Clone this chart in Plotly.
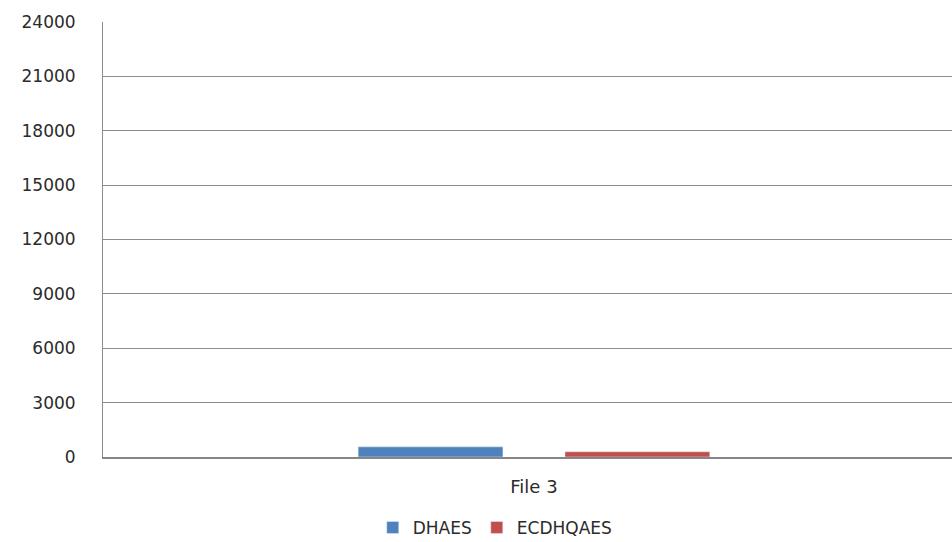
import plotly.graph_objects as go

categories = ["File 3"]
dhaes = [560]
ecdhqaes = [290]

fig = go.Figure()
fig.add_trace(go.Bar(name="DHAES", x=categories, y=dhaes, marker_color="#4F81BD"))
fig.add_trace(go.Bar(name="ECDHQAES", x=categories, y=ecdhqaes, marker_color="#C0504D"))

font = dict(family="DejaVu Sans, sans-serif", size=17, color="#2b2b2b")
fig.update_layout(
    width=952, height=542,
    margin=dict(l=103, r=0, t=22, b=85, autoexpand=False),
    paper_bgcolor="white", plot_bgcolor="white",
    barmode="group", bargap=0.52, bargroupgap=0.3,
    font=font,
    showlegend=True,
    legend=dict(orientation="h", x=0.462, xanchor="center", y=-0.163, yanchor="middle",
                font=dict(size=17, color="#2b2b2b"), itemwidth=30, tracegroupgap=0),
    xaxis=dict(range=[-0.5, 0.485], showline=True, linecolor="#868686", linewidth=1.5,
               ticks="", showgrid=False, tickfont=dict(size=18), ticklabelstandoff=13),
    yaxis=dict(range=[0, 24000], dtick=3000, showgrid=True, gridcolor="#8c8c8c", gridwidth=1,
               showline=True, linecolor="#8c8c8c", linewidth=1, zeroline=False,
               ticks="", ticklabelstandoff=23, tickformat="d"),
)
fig.write_html("out.html")
